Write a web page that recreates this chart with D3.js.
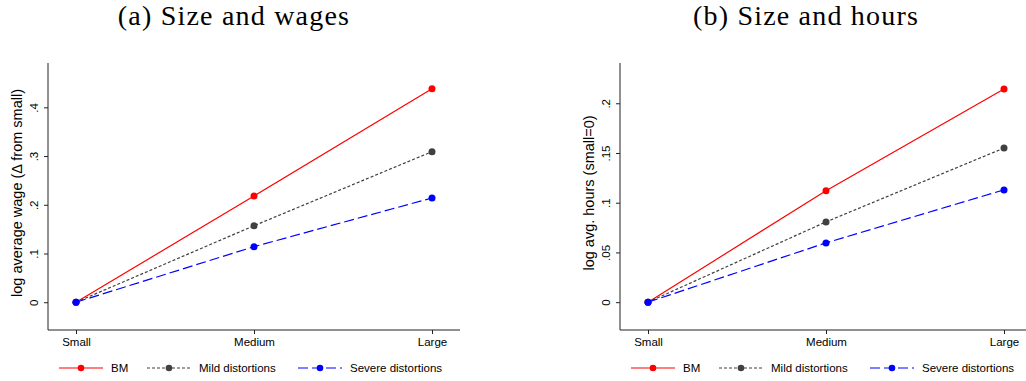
<!DOCTYPE html>
<html>
<head>
<meta charset="utf-8">
<script src="https://d3js.org/d3.v7.min.js"></script>
<style>
  body { margin: 0; background: #fff; }
  svg text { font-family: "Liberation Sans", Arial, sans-serif; fill: #000; }
  .ttl { font-family: "Liberation Serif", "DejaVu Serif", serif; font-size: 28px; letter-spacing: 1.2px; }
</style>
</head>
<body>
<svg id="chart" width="1026" height="381"></svg>
<script>
// categories and series
var sizes = ["Small", "Medium", "Large"];
var series = ["BM", "Mild distortions", "Severe distortions"];

var wageBM     = [0, 0.218, 0.438];
var wageMild   = [0, 0.157, 0.309];
var wageSevere = [0, 0.114, 0.214];

var hoursBM     = [0, 0.112, 0.2144];
var hoursMild   = [0, 0.0807, 0.155];
var hoursSevere = [0, 0.0596, 0.1129];

var wageTicks  = [0, 0.1, 0.2, 0.3, 0.4];
var hoursTicks = [0, 0.05, 0.1, 0.15, 0.2];

var colors = ["#ff0000", "#404040", "#0000ff"];
var dashes = [null, "3,2", "10,4"];

var svg = d3.select("#chart");

function tickFmt(d) {
  if (d === 0) return "0";
  return d3.format(".2~f")(d).replace(/^0/, "");
}

function drawPanel(dx, title, ytitle, ydomain, yticks, data) {
  var g = svg.append("g").attr("transform", "translate(" + dx + ",0)");

  var x = d3.scalePoint().domain(sizes).range([76, 432]);
  var y = d3.scaleLinear().domain(ydomain).range([330, 63]);

  g.append("text").attr("class", "ttl")
    .attr("x", 234).attr("y", 25).attr("text-anchor", "middle")
    .text(title);

  // y axis
  var ya = g.append("g").attr("transform", "translate(48,0)")
    .call(d3.axisLeft(y).tickValues(yticks).tickFormat(tickFmt).tickSize(4).tickSizeOuter(0));
  ya.select(".domain").attr("d", "M0," + y.range()[1] + "V" + y.range()[0]).attr("stroke", "#222");
  ya.selectAll(".tick line").attr("stroke", "#222");
  ya.selectAll(".tick text")
    .attr("font-size", 11.5).attr("x", null).attr("dy", null)
    .attr("text-anchor", "middle")
    .attr("transform", "translate(-10,0) rotate(-90)");

  // x axis
  var xa = g.append("g").attr("transform", "translate(0,330)")
    .call(d3.axisBottom(x).tickSize(4).tickSizeOuter(0));
  xa.select(".domain").attr("d", "M48,0H460").attr("stroke", "#222");
  xa.selectAll(".tick line").attr("stroke", "#222");
  xa.selectAll(".tick text").attr("font-size", 11.5).attr("y", 8);

  g.append("text")
    .attr("transform", "translate(22,193) rotate(-90)")
    .attr("text-anchor", "middle").attr("font-size", 14.5)
    .text(ytitle);

  var line = d3.line().x(function (d, i) { return x(sizes[i]); }).y(function (d) { return y(d); });

  data.forEach(function (vals, k) {
    g.append("path").datum(vals)
      .attr("d", line).attr("fill", "none")
      .attr("stroke", colors[k]).attr("stroke-width", 1.2)
      .attr("stroke-dasharray", dashes[k]);
    g.selectAll(".pt" + k).data(vals).enter().append("circle")
      .attr("cx", function (d, i) { return x(sizes[i]); })
      .attr("cy", function (d) { return y(d); })
      .attr("r", 3.5).attr("fill", colors[k]);
  });

  // legend
  var lx = [59, 147, 298];
  series.forEach(function (s, k) {
    var lg = g.append("g").attr("transform", "translate(" + lx[k] + ",368)");
    lg.append("line").attr("x1", 0).attr("x2", 44).attr("y1", 0).attr("y2", 0)
      .attr("stroke", colors[k]).attr("stroke-width", 1.2)
      .attr("stroke-dasharray", dashes[k]);
    lg.append("circle").attr("cx", 22).attr("cy", 0).attr("r", 3.3).attr("fill", colors[k]);
    lg.append("text").attr("x", 52).attr("y", 4).attr("font-size", 11.5).text(s);
  });
}

drawPanel(0, "(a) Size and wages", "log average wage (\u0394 from small)",
  [-0.057, 0.491], wageTicks, [wageBM, wageMild, wageSevere]);
drawPanel(572, "(b) Size and hours", "log avg. hours (small=0)",
  [-0.028, 0.2405], hoursTicks, [hoursBM, hoursMild, hoursSevere]);
</script>
</body>
</html>
